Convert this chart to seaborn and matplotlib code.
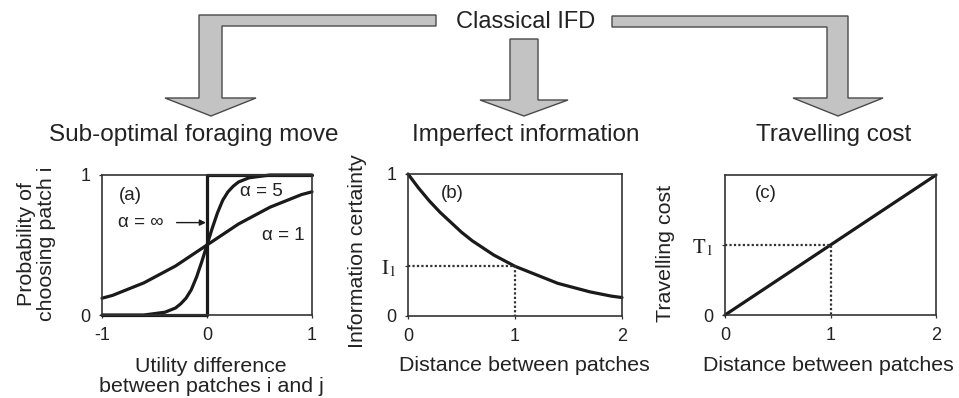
import matplotlib
matplotlib.use("Agg")
import matplotlib.pyplot as plt
from matplotlib.patches import Polygon
import seaborn as sns

# ---- data -------------------------------------------------------------
# (a) probability of choosing patch i vs. utility difference
utility_diff = [-1.0, -0.9, -0.8, -0.7, -0.6, -0.5, -0.4, -0.3, -0.2, -0.1, 0.0,
                0.1, 0.2, 0.3, 0.4, 0.5, 0.6, 0.7, 0.8, 0.9, 1.0]
p_alpha1 = [0.12, 0.14, 0.17, 0.20, 0.23, 0.27, 0.31, 0.35, 0.40, 0.45, 0.50,
            0.55, 0.60, 0.65, 0.69, 0.73, 0.77, 0.80, 0.83, 0.86, 0.88]
utility_diff_a5 = [-1.0, -0.6, -0.5, -0.4, -0.3, -0.25, -0.2, -0.15, -0.1, -0.05, 0.0,
                   0.05, 0.1, 0.15, 0.2, 0.25, 0.3, 0.4, 0.5, 0.6, 1.0]
p_alpha5 = [0.00, 0.00, 0.01, 0.02, 0.05, 0.08, 0.12, 0.18, 0.27, 0.38, 0.50,
            0.62, 0.73, 0.82, 0.88, 0.92, 0.95, 0.98, 0.99, 1.00, 1.00]
step_x = [-1.0, 0.0, 0.0, 1.0]
step_y = [0.0, 0.0, 1.0, 1.0]

# (b) information certainty vs. distance
distance_b = [0.0, 0.1, 0.2, 0.3, 0.4, 0.5, 0.6, 0.7, 0.8, 0.9, 1.0,
              1.1, 1.2, 1.3, 1.4, 1.5, 1.6, 1.7, 1.8, 1.9, 2.0]
certainty = [1.00, 0.90, 0.81, 0.73, 0.66, 0.59, 0.53, 0.48, 0.43, 0.39, 0.35,
             0.32, 0.29, 0.26, 0.23, 0.21, 0.19, 0.17, 0.155, 0.14, 0.13]
I1 = 0.35

# (c) travelling cost vs. distance
distance_c = [0.0, 2.0]
cost = [0.0, 1.0]
T1 = 0.5

ref_distance = 1.0

xticks_a = [-1, 0, 1]
xticklabels_a = ["-1", "0", "1"]
xticks_bc = [0, 1, 2]
xticklabels_bc = ["0", "1", "2"]

# ---- style -------------------------------------------------------------
sns.set_style("ticks")
plt.rcParams["font.family"] = ["Liberation Sans", "DejaVu Sans"]
plt.rcParams["mathtext.fontset"] = "stix"

TXT = "#222222"
LINE = "#1a1a1a"
SPINE = "#333333"
LW = 2.3

LABEL_FS = 15.4
TICK_FS = 13
NOTE_FS = 13.5
HEAD_FS = 17.5

fig = plt.figure(figsize=(9.59, 3.98), dpi=100)

W, H = 959.0, 398.0


def px_axes(left, right, top, bottom):
    return fig.add_axes([left / W, (H - bottom) / H, (right - left) / W, (bottom - top) / H])


ax_a = px_axes(102, 312, 175, 315)
ax_b = px_axes(408, 622, 174, 316)
ax_c = px_axes(725, 936, 175, 315)

for ax in (ax_a, ax_b, ax_c):
    for s in ax.spines.values():
        s.set_visible(True)
        s.set_color(SPINE)
        s.set_linewidth(1.2)
    ax.tick_params(direction="out", length=2.5, width=0.9, pad=6,
                   labelsize=TICK_FS, colors=SPINE, labelcolor=TXT)
    ax.set_ylim(0, 1)

# (a)
sns.lineplot(x=utility_diff, y=p_alpha1, ax=ax_a, color=LINE, lw=LW,
             estimator=None, sort=False, clip_on=False)
sns.lineplot(x=utility_diff_a5, y=p_alpha5, ax=ax_a, color=LINE, lw=LW,
             estimator=None, sort=False, clip_on=False)
sns.lineplot(x=step_x, y=step_y, ax=ax_a, color=LINE, lw=LW,
             estimator=None, sort=False, clip_on=False)
ax_a.set_xlim(-1, 1)
ax_a.set_xticks(xticks_a)
ax_a.set_xticklabels(xticklabels_a)
ax_a.set_yticks([0, 1])
ax_a.set_yticklabels(["0", "1"])
ax_a.set_xlabel("Utility difference\nbetween patches i and j", fontsize=LABEL_FS,
                color=TXT, linespacing=1.05)
ax_a.xaxis.set_label_coords(0.52, -0.30)
ax_a.set_ylabel("Probability of\nchoosing patch i", fontsize=LABEL_FS, color=TXT,
                linespacing=1.05)
ax_a.yaxis.set_label_coords(-0.22, 0.51)
ax_a.text(-0.73, 0.85, "(a)", fontsize=NOTE_FS, color=TXT, ha="center", va="center")
ax_a.text(0.52, 0.885, "α = 5", fontsize=NOTE_FS, color=TXT, ha="center", va="center")
ax_a.text(0.73, 0.57, "α = 1", fontsize=NOTE_FS, color=TXT, ha="center", va="center")
ax_a.text(-0.63, 0.66, "α = ∞", fontsize=NOTE_FS, color=TXT, ha="center", va="center")
ax_a.annotate("", xy=(-0.01, 0.66), xytext=(-0.29, 0.66),
              arrowprops=dict(arrowstyle="-|>", color=LINE, lw=1.0,
                              mutation_scale=9, shrinkA=0, shrinkB=0))

# (b)
sns.lineplot(x=distance_b, y=certainty, ax=ax_b, color=LINE, lw=LW,
             estimator=None, sort=False, clip_on=False)
ax_b.plot([0, ref_distance, ref_distance], [I1, I1, 0], ls=(0, (1, 1)),
          color="#333333", lw=1.6)
ax_b.set_xlim(0, 2)
ax_b.set_xticks(xticks_bc)
ax_b.set_xticklabels(xticklabels_bc)
ax_b.set_yticks([0, I1, 1])
ax_b.set_yticklabels(["0", r"$\mathrm{I}_1$", "1"])
ax_b.get_yticklabels()[1].set_fontsize(15)
ax_b.set_xlabel("Distance between patches", fontsize=LABEL_FS, color=TXT)
ax_b.xaxis.set_label_coords(0.545, -0.28)
ax_b.set_ylabel("Information certainty", fontsize=LABEL_FS, color=TXT)
ax_b.yaxis.set_label_coords(-0.19, 0.46)
ax_b.text(0.41, 0.86, "(b)", fontsize=NOTE_FS, color=TXT, ha="center", va="center")

# (c)
sns.lineplot(x=distance_c, y=cost, ax=ax_c, color=LINE, lw=LW,
             estimator=None, sort=False, clip_on=False)
ax_c.plot([0, ref_distance, ref_distance], [T1, T1, 0], ls=(0, (1, 1)),
          color="#333333", lw=1.6)
ax_c.set_xlim(0, 2)
ax_c.set_xticks(xticks_bc)
ax_c.set_xticklabels(xticklabels_bc)
ax_c.set_yticks([0, T1])
ax_c.set_yticklabels(["0", r"$\mathrm{T}_1$"])
ax_c.get_yticklabels()[1].set_fontsize(15)
ax_c.set_xlabel("Distance between patches", fontsize=LABEL_FS, color=TXT)
ax_c.xaxis.set_label_coords(0.49, -0.29)
ax_c.set_ylabel("Travelling cost", fontsize=LABEL_FS, color=TXT)
ax_c.yaxis.set_label_coords(-0.237, 0.44)
ax_c.text(0.39, 0.87, "(c)", fontsize=NOTE_FS, color=TXT, ha="center", va="center")

# ---- flow arrows and headings (pixel overlay) --------------------------
ov = fig.add_axes([0, 0, 1, 1], zorder=-1)
ov.set_xlim(0, W)
ov.set_ylim(H, 0)
ov.axis("off")

FILL = "#c3c3c3"
EDGE = "#4a4a4a"
arrows = [
    [(436, 15), (199, 15), (199, 98), (165, 98), (211, 116), (256, 98),
     (222, 98), (222, 26), (436, 26)],
    [(510, 39), (538, 39), (538, 100), (568, 100), (524, 116), (480, 100),
     (510, 100)],
    [(612, 16), (848, 16), (848, 98), (883, 98), (838, 116), (793, 98),
     (827, 98), (827, 27), (612, 27)],
]
for pts in arrows:
    ov.add_patch(Polygon(pts, closed=True, facecolor=FILL, edgecolor=EDGE, lw=1.0))

ov.text(526, 22, "Classical IFD", fontsize=HEAD_FS - 0.5, color=TXT,
        ha="center", va="center")
ov.text(194, 135, "Sub-optimal foraging move", fontsize=HEAD_FS, color=TXT,
        ha="center", va="center")
ov.text(526, 135, "Imperfect information", fontsize=HEAD_FS, color=TXT,
        ha="center", va="center")
ov.text(834, 135, "Travelling cost", fontsize=HEAD_FS, color=TXT,
        ha="center", va="center")

fig.savefig("out.png", dpi=100)
